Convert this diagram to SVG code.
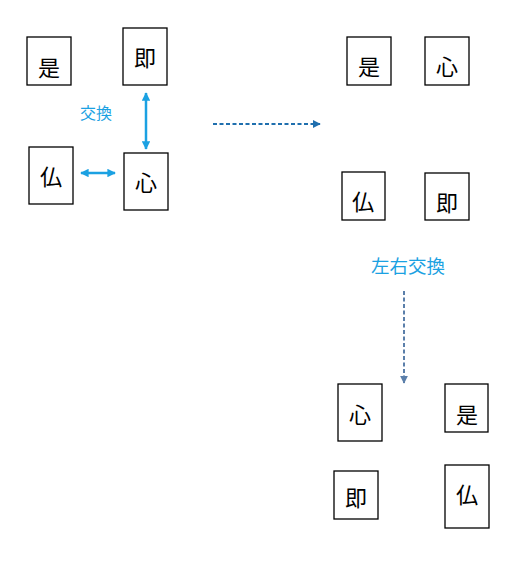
<svg xmlns="http://www.w3.org/2000/svg" width="529" height="564" viewBox="0 0 529 564">
<defs>
<style>
.box{fill:#fff;stroke:#000;stroke-width:1.3}
.ch{font-family:"Noto Sans CJK JP","Noto Sans CJK SC",sans-serif;font-size:22px;fill:#000;text-anchor:middle}
.lbl{font-family:"Noto Sans CJK JP","Noto Sans CJK SC",sans-serif;fill:#1BA1E2;text-anchor:middle}
.swap{stroke:#1BA1E2;stroke-width:2.5;fill:none}
</style>
<marker id="hb" viewBox="0 0 10 10" refX="9" refY="5" markerWidth="3.4" markerHeight="3.4" orient="auto-start-reverse" markerUnits="strokeWidth">
<path d="M0,0 L10,5 L0,10 Z" fill="#1BA1E2"/>
</marker>
<marker id="hd" viewBox="0 0 10 10" refX="9" refY="5" markerWidth="4" markerHeight="4" orient="auto" markerUnits="strokeWidth">
<path d="M0,0 L10,5 L0,10 Z" fill="#1F6FAE"/>
</marker>
<marker id="hd2" viewBox="0 0 10 10" refX="9" refY="5" markerWidth="4" markerHeight="4" orient="auto" markerUnits="strokeWidth">
<path d="M0,0 L10,5 L0,10 Z" fill="#5B7FAA"/>
</marker>
</defs>
<rect width="529" height="564" fill="#fff"/>
<g id="connectors">
<line class="swap" x1="146" y1="93" x2="146" y2="149" marker-start="url(#hb)" marker-end="url(#hb)"/>
<line class="swap" x1="81" y1="173" x2="115" y2="173" marker-start="url(#hb)" marker-end="url(#hb)"/>
<line x1="213" y1="124" x2="320" y2="124" stroke="#1F6FAE" stroke-width="2" stroke-dasharray="4,2.5" marker-end="url(#hd)"/>
<line x1="404" y1="291" x2="404" y2="383" stroke="#5B7FAA" stroke-width="2" stroke-dasharray="4,2.5" marker-end="url(#hd2)"/>
</g>
<g id="label-swap"><text class="lbl" x="96" y="119" font-size="16">交換</text></g>
<g id="label-lr"><text class="lbl" x="408" y="273" font-size="18.5">左右交換</text></g>
<g id="n1-ze"><rect class="box" x="27" y="37" width="44" height="48"/><text class="ch" x="49" y="76">是</text></g>
<g id="n1-soku"><rect class="box" x="123" y="28" width="44" height="57"/><text class="ch" x="145" y="66">即</text></g>
<g id="n1-butsu"><rect class="box" x="29" y="147" width="44" height="57"/><text class="ch" x="51" y="185">仏</text></g>
<g id="n1-shin"><rect class="box" x="124" y="153" width="44" height="57"/><text class="ch" x="146" y="191">心</text></g>
<g id="n2-ze"><rect class="box" x="347" y="37" width="44" height="48"/><text class="ch" x="369" y="75">是</text></g>
<g id="n2-shin"><rect class="box" x="425" y="37" width="44" height="48"/><text class="ch" x="447" y="75">心</text></g>
<g id="n2-butsu"><rect class="box" x="342" y="172" width="43" height="48"/><text class="ch" x="363" y="210">仏</text></g>
<g id="n2-soku"><rect class="box" x="425" y="173" width="44" height="47"/><text class="ch" x="447" y="211">即</text></g>
<g id="n3-shin"><rect class="box" x="338" y="384" width="44" height="57"/><text class="ch" x="360" y="423">心</text></g>
<g id="n3-ze"><rect class="box" x="445" y="384" width="43" height="48"/><text class="ch" x="467" y="423">是</text></g>
<g id="n3-soku"><rect class="box" x="334" y="471" width="44" height="48"/><text class="ch" x="356" y="506">即</text></g>
<g id="n3-butsu"><rect class="box" x="445" y="465" width="44" height="63"/><text class="ch" x="467" y="503">仏</text></g>
</svg>
